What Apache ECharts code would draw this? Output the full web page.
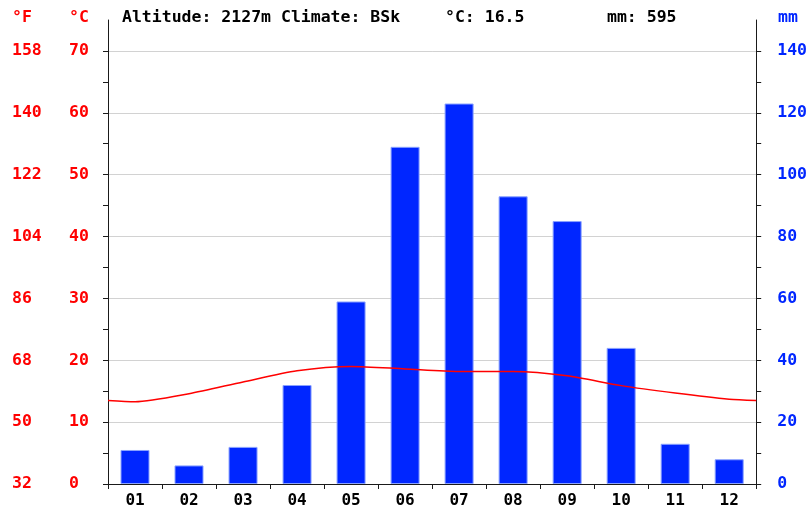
<!DOCTYPE html>
<html>
<head>
<meta charset="utf-8">
<script src="https://cdn.jsdelivr.net/npm/echarts@6/dist/echarts.min.js"></script>
<style>
  html, body { margin: 0; padding: 0; background: #fff; }
  #chart { width: 810px; height: 509px; }
</style>
</head>
<body>
<div id="chart"></div>
<script>
// climate chart data
const months = ['01', '02', '03', '04', '05', '06', '07', '08', '09', '10', '11', '12'];
const precipMm = [11, 6, 12, 32, 59, 109, 123, 93, 85, 44, 13, 8];
const tempC = [13.3, 14.6, 16.5, 18.3, 19.0, 18.6, 18.2, 18.2, 17.5, 15.9, 14.7, 13.7];
const tempEdgeC = [13.5, 13.5]; // line value at left / right plot edge
const cLabels = [0, 10, 20, 30, 40, 50, 60, 70];
const fLabels = [32, 50, 68, 86, 104, 122, 140, 158];
const mmLabels = [0, 20, 40, 60, 80, 100, 120, 140];
const headerTexts = ['Altitude: 2127m Climate: BSk', '°C: 16.5', 'mm: 595'];

const font = 'DejaVu Sans Mono';
const red = '#ff0000';
const blue = '#0026ff';
const axisColor = '#1a1a1a';

let lineData = [[0, tempEdgeC[0]]];
tempC.forEach(function (t, i) { lineData.push([i + 0.5, t]); });
lineData.push([months.length, tempEdgeC[1]]);

// ticks every 5 deg C, gridline only every 10
let cTicks = [];
for (let v = 0; v <= 70; v += 5) cTicks.push(v);
let mmTicks = [];
for (let v = 0; v <= 140; v += 10) mmTicks.push(v);

let myChart = echarts.init(document.getElementById('chart'), null, { renderer: 'canvas' });
let option = {
    animation: false,
    backgroundColor: '#ffffff',
    grid: { left: 108, right: 53, top: 20, bottom: 25 },
    graphic: [
        { type: 'text', left: 12, top: 9, style: { text: '°F', fill: red, font: 'bold 16.5px ' + font } },
        { type: 'text', left: 69, top: 9, style: { text: '°C', fill: red, font: 'bold 16.5px ' + font } },
        { type: 'text', left: 778, top: 9, style: { text: 'mm', fill: blue, font: 'bold 16.5px ' + font } },
        { type: 'text', left: 122, top: 9, style: { text: headerTexts[0], fill: '#000', font: 'bold 16.5px ' + font } },
        { type: 'text', left: 445, top: 9, style: { text: headerTexts[1], fill: '#000', font: 'bold 16.5px ' + font } },
        { type: 'text', left: 607, top: 9, style: { text: headerTexts[2], fill: '#000', font: 'bold 16.5px ' + font } }
    ],
    xAxis: [
        {
            type: 'category',
            data: months,
            axisLine: { lineStyle: { color: axisColor, width: 1 } },
            axisTick: { show: true, length: 5, lineStyle: { color: axisColor } },
            axisLabel: { color: '#000', fontFamily: font, fontWeight: 'bold', fontSize: 16, margin: 9 },
            splitLine: { show: false }
        },
        {
            type: 'value',
            min: 0,
            max: months.length,
            show: false
        }
    ],
    yAxis: [
        {
            type: 'value',
            position: 'left',
            min: 0,
            max: 75,
            interval: 10,
            axisLine: { show: true, lineStyle: { color: axisColor, width: 1 } },
            axisTick: { show: true, length: 5, customValues: cTicks, lineStyle: { color: axisColor } },
            axisLabel: {
                customValues: cLabels,
                align: 'left',
                margin: 39,
                color: red,
                fontFamily: font,
                fontWeight: 'bold',
                fontSize: 16.5
            },
            splitLine: { show: true, lineStyle: { color: ['#d2d2d2', 'rgba(0,0,0,0)'], width: 1 } }
        },
        {
            type: 'value',
            position: 'left',
            min: 0,
            max: 75,
            interval: 10,
            axisLine: { show: false },
            axisTick: { show: false },
            axisLabel: {
                customValues: cLabels,
                formatter: function (v) { return String(fLabels[cLabels.indexOf(v)]); },
                align: 'left',
                margin: 96,
                color: red,
                fontFamily: font,
                fontWeight: 'bold',
                fontSize: 16.5
            },
            splitLine: { show: false }
        },
        {
            type: 'value',
            position: 'right',
            min: 0,
            max: 150,
            interval: 20,
            axisLine: { show: true, lineStyle: { color: axisColor, width: 1 } },
            axisTick: { show: true, length: 5, customValues: mmTicks, lineStyle: { color: axisColor } },
            axisLabel: {
                customValues: mmLabels,
                align: 'left',
                margin: 21,
                color: blue,
                fontFamily: font,
                fontWeight: 'bold',
                fontSize: 16.5
            },
            splitLine: { show: false }
        }
    ],
    series: [
        {
            type: 'bar',
            xAxisIndex: 0,
            yAxisIndex: 2,
            data: precipMm,
            barWidth: 29,
            itemStyle: { color: blue, borderColor: '#8aa2ff', borderWidth: 1 },
            z: 2
        },
        {
            type: 'line',
            xAxisIndex: 1,
            yAxisIndex: 0,
            data: lineData,
            smooth: 0.25,
            symbol: 'none',
            lineStyle: { color: red, width: 1.5 },
            z: 3
        }
    ]
};
myChart.setOption(option);
</script>
</body>
</html>
